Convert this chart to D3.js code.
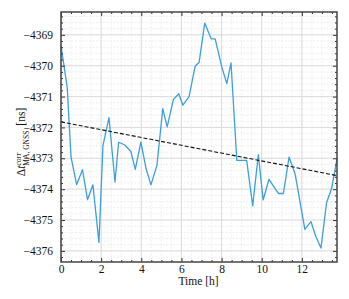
<!DOCTYPE html>
<html>
<head>
<meta charset="utf-8">
<script src="https://cdn.jsdelivr.net/npm/d3@7"></script>
<style>
  body { margin: 0; background: #fff; }
  svg { font-family: "Liberation Serif", "DejaVu Serif", serif; }
</style>
</head>
<body>
<svg id="chart" width="349" height="299"></svg>
<script>
// time [h] and offset [ns]
const times = [0, 0.31, 0.5, 0.78, 1.07, 1.32, 1.59, 1.89, 2.09, 2.39, 2.69, 2.87, 3.18,
    3.48, 3.70, 3.98, 4.24, 4.48, 4.78, 5.07, 5.29, 5.60, 5.87, 6.07, 6.38, 6.68,
    6.88, 7.16, 7.48, 7.68, 8.01, 8.26, 8.47, 8.76, 9.25, 9.55, 9.83, 10.07,
    10.36, 10.83, 11.08, 11.36, 11.66, 12.15, 12.45, 12.70, 12.95, 13.23, 13.48, 13.76];
const values = [-4369.35, -4370.71, -4372.96, -4373.85, -4373.37, -4374.34, -4373.86, -4375.73,
    -4372.59, -4371.68, -4373.77, -4372.48, -4372.57,
    -4372.78, -4373.36, -4372.48, -4373.34, -4373.86, -4373.23, -4371.39, -4371.98, -4371.09,
    -4370.91, -4371.28, -4371.0, -4370.02,
    -4369.89, -4368.62, -4369.13, -4369.13, -4370.04, -4370.58, -4369.91, -4373.07, -4373.07,
    -4374.54, -4372.88, -4374.35,
    -4373.68, -4374.14, -4374.14, -4372.96, -4373.5, -4375.30, -4375.05, -4375.54, -4375.91,
    -4374.44, -4373.98, -4372.99];
// linear fit (dashed)
const fitTimes = [0, 13.75];
const fitValues = [-4371.82, -4373.56];

const xTicks = [0, 2, 4, 6, 8, 10, 12];
const yTicks = [-4376, -4375, -4374, -4373, -4372, -4371, -4370, -4369];

const margin = {left: 61, right: 12, top: 12, bottom: 37};
const width = 349 - margin.left - margin.right,
    height = 299 - margin.top - margin.bottom;

const svg = d3.select("#chart");
const g = svg.append("g")
    .attr("transform", "translate(" + margin.left + "," + margin.top + ")");

const x = d3.scaleLinear().domain([0, 13.75]).range([0, width]);
const y = d3.scaleLinear().domain([-4376.36, -4368.26]).range([height, 0]);

const xMinor = d3.range(0, 13.75, 0.5);
const yMinor = d3.range(-4376.2, -4368.26, 0.2).map(v => Math.round(v * 10) / 10);

// minor grid
g.append("g").selectAll("line").data(xMinor).enter().append("line")
    .attr("x1", d => x(d)).attr("x2", d => x(d))
    .attr("y1", 0).attr("y2", height)
    .attr("stroke", "#ebebeb").attr("stroke-width", 0.8).attr("stroke-dasharray", "2,1.5");
g.append("g").selectAll("line").data(yMinor).enter().append("line")
    .attr("x1", 0).attr("x2", width)
    .attr("y1", d => y(d)).attr("y2", d => y(d))
    .attr("stroke", "#ebebeb").attr("stroke-width", 0.8).attr("stroke-dasharray", "2,1.5");

// major grid
g.append("g").selectAll("line").data(xTicks).enter().append("line")
    .attr("x1", d => x(d)).attr("x2", d => x(d))
    .attr("y1", 0).attr("y2", height)
    .attr("stroke", "#dcdcdc").attr("stroke-width", 1);
g.append("g").selectAll("line").data(yTicks).enter().append("line")
    .attr("x1", 0).attr("x2", width)
    .attr("y1", d => y(d)).attr("y2", d => y(d))
    .attr("stroke", "#dcdcdc").attr("stroke-width", 1);

// data line
const line = d3.line().x(d => x(d[0])).y(d => y(d[1]));
g.append("path")
    .datum(d3.zip(times, values))
    .attr("fill", "none")
    .attr("stroke", "#3b9fe0")
    .attr("stroke-width", 1.3)
    .attr("stroke-linejoin", "round")
    .attr("d", line);

// fit line
g.append("path")
    .datum(d3.zip(fitTimes, fitValues))
    .attr("fill", "none")
    .attr("stroke", "#111")
    .attr("stroke-width", 1.1)
    .attr("stroke-dasharray", "4,2")
    .attr("d", line);

// axes, ticks inward on all sides
function styleAxis(sel) {
    sel.attr("font-family", null);
    sel.select(".domain").remove();
    sel.selectAll(".tick line").attr("stroke", "#333");
    sel.selectAll("text").attr("fill", "#111").style("font-size", "11.5px");
}
const fmt = d => d3.format("d")(d).replace("-", "\u2212");

g.append("g").attr("transform", "translate(0," + height + ")")
    .call(d3.axisBottom(x).tickValues(xTicks).tickSize(-4).tickPadding(3).tickFormat(fmt))
    .call(styleAxis);
g.append("g").attr("transform", "translate(0," + height + ")")
    .call(d3.axisBottom(x).tickValues(xMinor.filter(d => d % 2 !== 0)).tickSize(-2).tickFormat(""))
    .call(styleAxis);
g.append("g")
    .call(d3.axisTop(x).tickValues(xTicks).tickSize(-4).tickFormat(""))
    .call(styleAxis);
g.append("g")
    .call(d3.axisTop(x).tickValues(xMinor.filter(d => d % 2 !== 0)).tickSize(-2).tickFormat(""))
    .call(styleAxis);

const yMinorOnly = yMinor.filter(d => !yTicks.includes(d));
g.append("g")
    .call(d3.axisLeft(y).tickValues(yTicks).tickSize(-4).tickPadding(8).tickFormat(fmt))
    .call(styleAxis);
g.append("g")
    .call(d3.axisLeft(y).tickValues(yMinorOnly).tickSize(-2).tickFormat(""))
    .call(styleAxis);
g.append("g").attr("transform", "translate(" + width + ",0)")
    .call(d3.axisRight(y).tickValues(yTicks).tickSize(-4).tickFormat(""))
    .call(styleAxis);
g.append("g").attr("transform", "translate(" + width + ",0)")
    .call(d3.axisRight(y).tickValues(yMinorOnly).tickSize(-2).tickFormat(""))
    .call(styleAxis);

// frame
g.append("rect")
    .attr("width", width).attr("height", height)
    .attr("fill", "none").attr("stroke", "#444").attr("stroke-width", 1.5);

// x label
svg.append("text")
    .attr("x", 198.5)
    .attr("y", 285)
    .attr("text-anchor", "middle")
    .style("font-size", "11.5px")
    .attr("fill", "#111")
    .text("Time [h]");

// y label
const yl = svg.append("text")
    .attr("transform", "translate(25,142) rotate(-90)")
    .attr("text-anchor", "middle")
    .style("font-size", "11.5px")
    .attr("fill", "#111");
yl.append("tspan").text("\u0394");
yl.append("tspan").style("font-style", "italic").text("t");
yl.append("tspan").attr("dy", -4.5).style("font-size", "7.5px").style("font-style", "italic").text("corr");
yl.append("tspan").attr("dx", -13).attr("dy", 8).style("font-size", "7.5px").text("MA, GNSS");
yl.append("tspan").attr("dx", 5).attr("dy", -3.5).text("[ns]");
</script>
</body>
</html>
